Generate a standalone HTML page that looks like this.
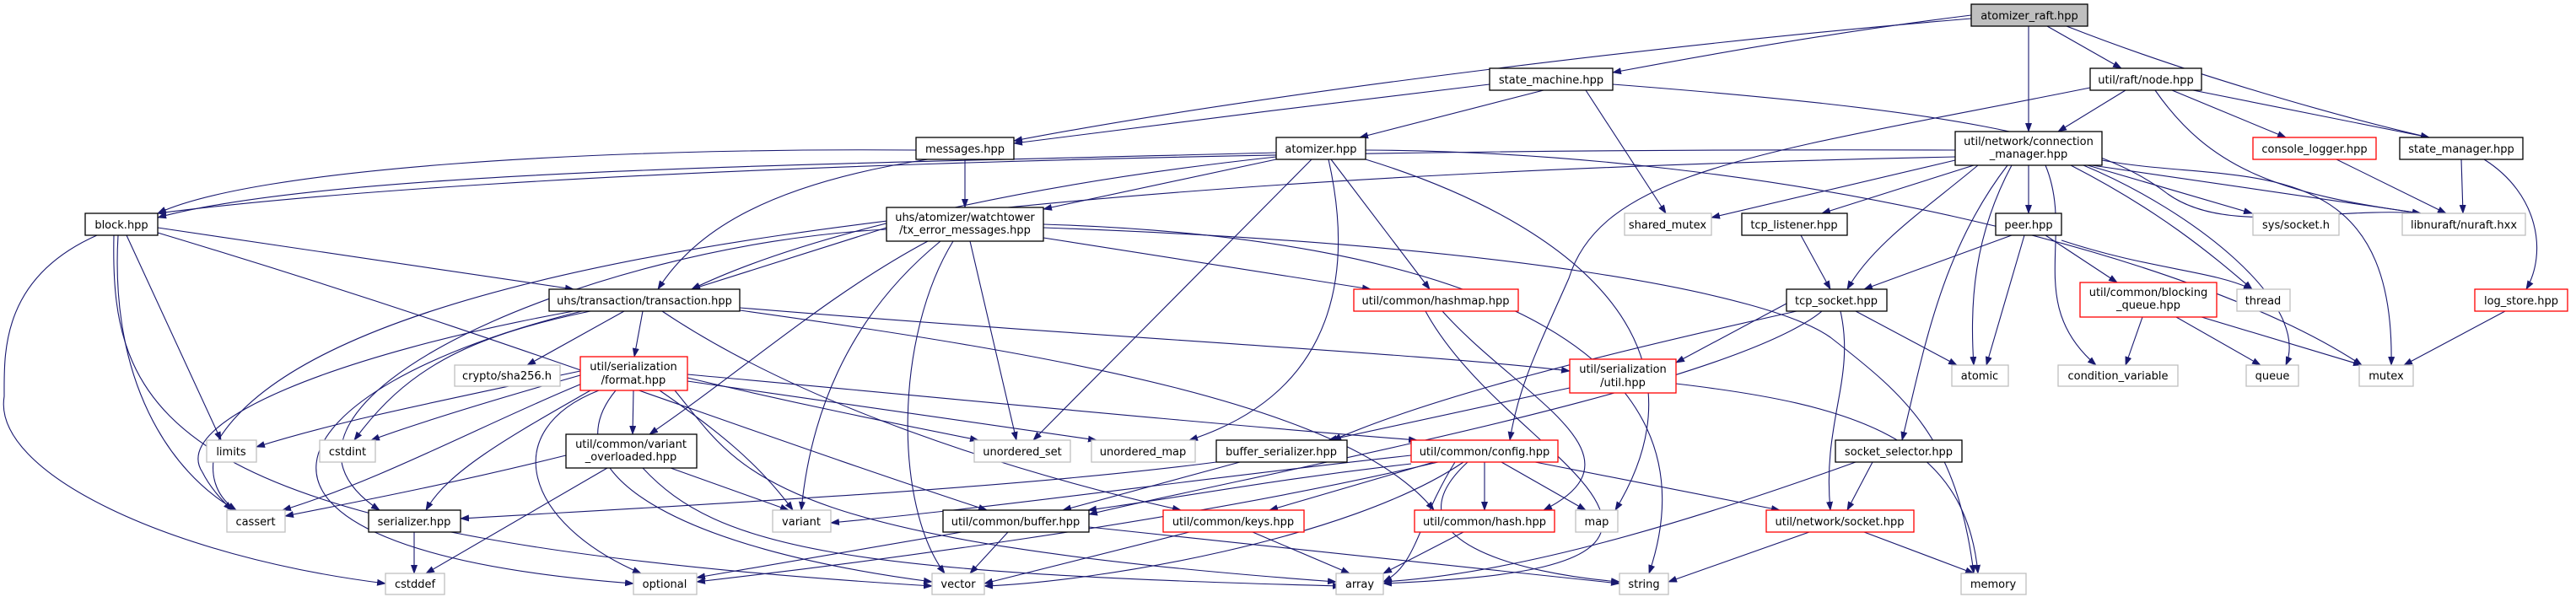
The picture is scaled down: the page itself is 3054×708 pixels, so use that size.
<!DOCTYPE html>
<html><head><meta charset="utf-8"><style>
html,body{margin:0;padding:0;background:#fff;}
svg{display:block;}
text{font-family:"DejaVu Sans","Liberation Sans",sans-serif;font-size:13px;fill:#000;text-anchor:middle;}
.b{fill:#fff;stroke:#000;stroke-width:1.3;}
.g{fill:#fff;stroke:#bfbfbf;stroke-width:1.3;}
.r{fill:#fff;stroke:#ff0000;stroke-width:1.3;}
.e path{fill:none;stroke:#191970;stroke-width:1.1;marker-end:url(#a);}
</style></head><body>
<svg width="3054" height="708" viewBox="0 0 3054 708" xmlns="http://www.w3.org/2000/svg">
<defs><marker id="a" markerWidth="11" markerHeight="8" refX="10" refY="4" orient="auto" markerUnits="userSpaceOnUse"><path d="M0,0 L11,4 L0,8 z" fill="#191970"/></marker></defs>
<g class="e">
<path d="M2337,22 C2000,50 1500,110 1202,167"/>
<path d="M2337,18 C2200,35 2050,60 1912,86"/>
<path d="M2405,31 L2405,156"/>
<path d="M2427,31 L2515,81"/>
<path d="M2450,31 C2600,90 2780,140 2880,163"/>
<path d="M1766,100 C1600,120 1350,150 1202,170"/>
<path d="M1830,107 L1612,163"/>
<path d="M1880,107 L1975,253"/>
<path d="M1912,100 C2300,130 2480,160 2570,230 C2640,280 2760,245 2870,253"/>
<path d="M2478,104 C2100,180 1900,200 1860,330 C1820,420 1800,460 1790,522"/>
<path d="M2520,107 L2440,156"/>
<path d="M2555,107 C2620,200 2700,230 2870,253"/>
<path d="M2575,107 L2710,163"/>
<path d="M2600,107 L2880,163"/>
<path d="M1086,178 C700,175 300,200 187,253"/>
<path d="M1144,189 L1144,246"/>
<path d="M1100,189 C900,220 820,280 780,343"/>
<path d="M1513,181 C1000,195 400,200 187,258"/>
<path d="M1513,189 L1237,248"/>
<path d="M1513,186 C1200,220 950,280 820,343"/>
<path d="M1555,189 L1225,522"/>
<path d="M1575,189 C1600,300 1600,460 1410,522"/>
<path d="M1578,189 L1695,343"/>
<path d="M1619,189 C1850,260 2040,400 1915,605"/>
<path d="M1619,178 C2100,180 2600,300 2800,433"/>
<path d="M1051,270 L820,343"/>
<path d="M1100,286 C980,350 880,440 770,515"/>
<path d="M1115,286 C1000,380 960,500 950,605"/>
<path d="M1130,286 C1060,400 1060,600 1120,680"/>
<path d="M1150,286 L1205,522"/>
<path d="M1237,282 L1625,343"/>
<path d="M1237,266 C1700,280 2050,400 1955,680"/>
<path d="M1237,270 C1800,290 2100,350 2170,400 C2260,470 2320,520 2340,680"/>
<path d="M1051,272 C700,290 260,480 450,605"/>
<path d="M187,270 L680,343"/>
<path d="M187,276 C600,400 850,500 1170,605"/>
<path d="M150,279 L262,522"/>
<path d="M140,279 C130,450 200,560 280,605"/>
<path d="M135,279 C130,500 200,640 1105,695"/>
<path d="M115,279 C0,330 5,420 5,470 C-10,560 200,660 457,692"/>
<path d="M680,369 C400,420 200,500 240,560 C250,580 265,595 275,605"/>
<path d="M700,369 C550,400 480,440 420,522"/>
<path d="M740,369 L625,433"/>
<path d="M762,369 L752,423"/>
<path d="M785,369 C950,480 1200,560 1400,605"/>
<path d="M877,365 C1300,400 1700,420 1861,440"/>
<path d="M877,368 C1250,420 1600,480 1700,605"/>
<path d="M690,369 C320,460 200,650 751,692"/>
<path d="M688,440 C500,480 400,500 304,530"/>
<path d="M688,445 C600,470 500,500 440,522"/>
<path d="M690,455 C580,500 450,570 335,605"/>
<path d="M700,463 C600,520 530,560 505,605"/>
<path d="M751,463 L750,515"/>
<path d="M710,463 C590,510 620,620 760,680"/>
<path d="M730,463 C650,560 800,650 1105,690"/>
<path d="M782,463 C850,510 900,550 940,605"/>
<path d="M800,463 C880,560 900,640 1584,690"/>
<path d="M815,448 C950,480 1050,500 1160,522"/>
<path d="M815,452 C1000,480 1150,500 1300,522"/>
<path d="M815,444 C1100,470 1400,500 1680,522"/>
<path d="M671,540 C550,570 450,590 338,612"/>
<path d="M720,555 L505,680"/>
<path d="M795,555 L935,605"/>
<path d="M762,555 C850,650 1000,680 1590,695"/>
<path d="M491,631 L491,680"/>
<path d="M1470,548 L1260,605"/>
<path d="M1673,550 C1500,570 1400,590 1290,605"/>
<path d="M1442,548 C1200,580 800,600 546,615"/>
<path d="M1673,540 C1400,570 1200,600 985,620"/>
<path d="M1700,548 L1505,605"/>
<path d="M1760,548 L1760,605"/>
<path d="M1780,548 L1880,605"/>
<path d="M1820,548 L2110,605"/>
<path d="M1735,548 C1600,640 1300,690 1167,695"/>
<path d="M1740,548 C1640,640 1800,680 1920,690"/>
<path d="M1705,548 C1400,620 1000,670 826,690"/>
<path d="M1725,548 C1680,620 1680,670 1640,690"/>
<path d="M1140,631 L826,685"/>
<path d="M1195,631 L1150,680"/>
<path d="M1291,625 L1920,692"/>
<path d="M1410,631 L1167,692"/>
<path d="M1485,631 L1600,680"/>
<path d="M1735,631 L1640,680"/>
<path d="M1710,369 C1800,470 1960,540 1830,605"/>
<path d="M1690,369 C1750,480 1900,560 1900,620 C1900,670 1800,685 1640,692"/>
<path d="M1861,460 L1575,522"/>
<path d="M1987,455 C2200,480 2330,520 2345,680"/>
<path d="M2118,360 L1987,430"/>
<path d="M2130,369 C1900,420 1700,470 1580,522"/>
<path d="M2160,369 C2050,460 1500,560 1291,610"/>
<path d="M2200,369 L2320,433"/>
<path d="M2182,369 C2200,450 2160,500 2170,605"/>
<path d="M2135,279 L2170,343"/>
<path d="M2385,279 L2210,343"/>
<path d="M2400,279 L2355,433"/>
<path d="M2425,279 L2510,335"/>
<path d="M2444,285 C2550,320 2620,320 2670,343"/>
<path d="M2318,178 C1500,175 600,200 187,253"/>
<path d="M2318,190 L2029,258"/>
<path d="M2340,196 L2160,253"/>
<path d="M2345,196 C2280,250 2220,290 2190,343"/>
<path d="M2385,196 C2340,280 2335,360 2340,433"/>
<path d="M2380,196 C2300,300 2280,420 2255,522"/>
<path d="M2405,196 L2405,253"/>
<path d="M2425,196 C2460,280 2400,360 2485,433"/>
<path d="M2455,196 C2560,250 2620,300 2670,343"/>
<path d="M2470,196 C2600,250 2740,360 2710,433"/>
<path d="M2475,196 L2670,253"/>
<path d="M2492,190 C2650,220 2840,170 2835,433"/>
<path d="M2480,196 L2870,253"/>
<path d="M2318,186 C1200,210 400,300 260,520 C240,570 265,595 280,605"/>
<path d="M2540,376 L2520,433"/>
<path d="M2580,376 L2680,433"/>
<path d="M2610,376 L2800,433"/>
<path d="M2220,548 L2190,605"/>
<path d="M2200,548 C2000,620 1800,680 1640,690"/>
<path d="M2210,631 L2340,680"/>
<path d="M2145,631 L1978,690"/>
<path d="M2770,189 L2900,253"/>
<path d="M2918,189 L2920,253"/>
<path d="M2945,189 C3010,230 3020,300 2995,343"/>
<path d="M2970,369 L2850,433"/>
</g>
<g>
<rect x="2337" y="5" width="138" height="26" fill="#bfbfbf" stroke="#000" stroke-width="1.3"/><text x="2406" y="23">atomizer_raft.hpp</text>
<rect class="b" x="1766" y="81" width="146" height="26"/><text x="1839" y="99">state_machine.hpp</text>
<rect class="b" x="2478" y="81" width="132" height="26"/><text x="2544" y="99">util/raft/node.hpp</text>
<rect class="b" x="1086" y="163" width="116" height="26"/><text x="1144" y="181">messages.hpp</text>
<rect class="b" x="1513" y="163" width="106" height="26"/><text x="1566" y="181">atomizer.hpp</text>
<rect class="b" x="2318" y="156" width="174" height="40"/><text x="2405" y="172">util/network/connection</text><text x="2405" y="187">_manager.hpp</text>
<rect class="r" x="2671" y="163" width="146" height="26"/><text x="2744" y="181">console_logger.hpp</text>
<rect class="b" x="2845" y="163" width="146" height="26"/><text x="2918" y="181">state_manager.hpp</text>
<rect class="b" x="101" y="253" width="86" height="26"/><text x="144" y="271">block.hpp</text>
<rect class="b" x="1051" y="246" width="186" height="40"/><text x="1144" y="262">uhs/atomizer/watchtower</text><text x="1144" y="277">/tx_error_messages.hpp</text>
<rect class="g" x="1926" y="253" width="103" height="26"/><text x="1977" y="271">shared_mutex</text>
<rect class="b" x="2065" y="253" width="125" height="26"/><text x="2127" y="271">tcp_listener.hpp</text>
<rect class="b" x="2366" y="253" width="78" height="26"/><text x="2405" y="271">peer.hpp</text>
<rect class="g" x="2671" y="253" width="102" height="26"/><text x="2722" y="271">sys/socket.h</text>
<rect class="g" x="2848" y="253" width="146" height="26"/><text x="2921" y="271">libnuraft/nuraft.hxx</text>
<rect class="b" x="651" y="343" width="226" height="26"/><text x="764" y="361">uhs/transaction/transaction.hpp</text>
<rect class="r" x="1605" y="343" width="195" height="26"/><text x="1702" y="361">util/common/hashmap.hpp</text>
<rect class="b" x="2118" y="343" width="119" height="26"/><text x="2177" y="361">tcp_socket.hpp</text>
<rect class="r" x="2466" y="335" width="162" height="41"/><text x="2547" y="351">util/common/blocking</text><text x="2547" y="366">_queue.hpp</text>
<rect class="g" x="2652" y="343" width="63" height="26"/><text x="2683" y="361">thread</text>
<rect class="r" x="2934" y="343" width="110" height="26"/><text x="2989" y="361">log_store.hpp</text>
<rect class="g" x="539" y="433" width="125" height="25"/><text x="601" y="450">crypto/sha256.h</text>
<rect class="r" x="688" y="423" width="127" height="40"/><text x="751" y="439">util/serialization</text><text x="751" y="455">/format.hpp</text>
<rect class="r" x="1861" y="426" width="126" height="40"/><text x="1924" y="442">util/serialization</text><text x="1924" y="458">/util.hpp</text>
<rect class="g" x="2314" y="433" width="67" height="25"/><text x="2347" y="450">atomic</text>
<rect class="g" x="2440" y="433" width="142" height="25"/><text x="2511" y="450">condition_variable</text>
<rect class="g" x="2663" y="433" width="62" height="25"/><text x="2694" y="450">queue</text>
<rect class="g" x="2797" y="433" width="64" height="25"/><text x="2829" y="450">mutex</text>
<rect class="g" x="245" y="522" width="59" height="26"/><text x="274" y="540">limits</text>
<rect class="g" x="379" y="522" width="66" height="26"/><text x="412" y="540">cstdint</text>
<rect class="b" x="671" y="515" width="155" height="40"/><text x="748" y="531">util/common/variant</text><text x="748" y="546">_overloaded.hpp</text>
<rect class="g" x="1155" y="522" width="114" height="26"/><text x="1212" y="540">unordered_set</text>
<rect class="g" x="1294" y="522" width="123" height="26"/><text x="1355" y="540">unordered_map</text>
<rect class="b" x="1442" y="522" width="155" height="26"/><text x="1519" y="540">buffer_serializer.hpp</text>
<rect class="r" x="1673" y="522" width="174" height="26"/><text x="1760" y="540">util/common/config.hpp</text>
<rect class="b" x="2176" y="522" width="150" height="26"/><text x="2251" y="540">socket_selector.hpp</text>
<rect class="g" x="269" y="605" width="69" height="26"/><text x="303" y="623">cassert</text>
<rect class="b" x="437" y="605" width="109" height="26"/><text x="491" y="623">serializer.hpp</text>
<rect class="g" x="916" y="605" width="69" height="26"/><text x="950" y="623">variant</text>
<rect class="b" x="1118" y="605" width="173" height="26"/><text x="1204" y="623">util/common/buffer.hpp</text>
<rect class="r" x="1379" y="605" width="167" height="26"/><text x="1462" y="623">util/common/keys.hpp</text>
<rect class="r" x="1677" y="605" width="166" height="26"/><text x="1760" y="623">util/common/hash.hpp</text>
<rect class="g" x="1868" y="605" width="50" height="26"/><text x="1893" y="623">map</text>
<rect class="r" x="2094" y="605" width="175" height="26"/><text x="2181" y="623">util/network/socket.hpp</text>
<rect class="g" x="457" y="680" width="70" height="25"/><text x="492" y="697">cstddef</text>
<rect class="g" x="751" y="680" width="75" height="25"/><text x="788" y="697">optional</text>
<rect class="g" x="1105" y="680" width="62" height="25"/><text x="1136" y="697">vector</text>
<rect class="g" x="1584" y="680" width="56" height="25"/><text x="1612" y="697">array</text>
<rect class="g" x="1920" y="680" width="58" height="25"/><text x="1949" y="697">string</text>
<rect class="g" x="2325" y="680" width="77" height="25"/><text x="2363" y="697">memory</text>
</g>
</svg>
</body></html>
